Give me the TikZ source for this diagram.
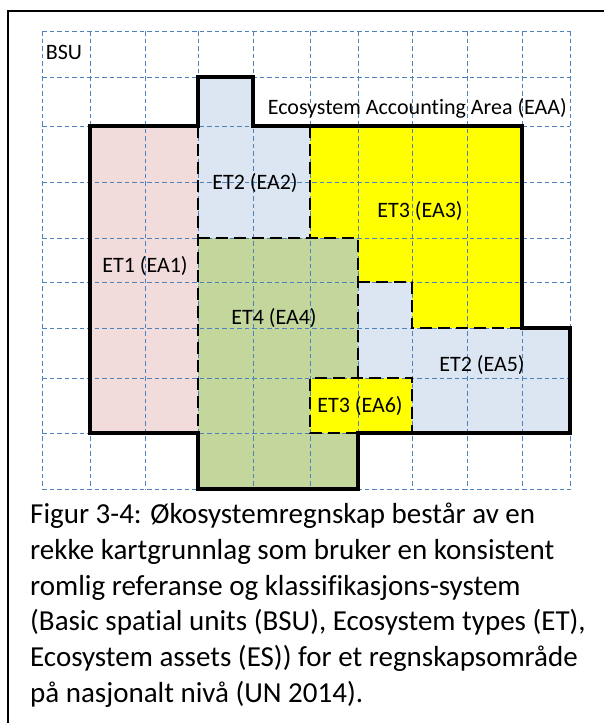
\documentclass[tikz,border=0pt]{standalone}
\usepackage{fontspec}
\setmainfont{Carlito}[Ligatures=NoCommon]
\usetikzlibrary{positioning}

\definecolor{gridblue}{HTML}{4F81BD}
\definecolor{etpink}{HTML}{F2DCDB}
\definecolor{etblue}{HTML}{DCE6F2}
\definecolor{etgreen}{HTML}{C3D69B}
\definecolor{etyellow}{HTML}{FFFF00}

\tikzset{
  bsugrid/.style={gridblue, line width=1pt, dash pattern=on 4.5pt off 3pt},
  eaborder/.style={line width=2.6pt, dash pattern=on 12pt off 6pt},
  eaaborder/.style={line width=4pt, line join=miter},
  etlabel/.style={font=\fontsize{22}{26}\selectfont, inner sep=0pt},
  figtext/.style={font=\fontsize{29}{35.7}\selectfont, inner sep=0pt, align=left}
}

\begin{document}
\begin{tikzpicture}[x=1pt,y=-1pt]
  \useasboundingbox (0,0) rectangle (604,723);
  \draw[line width=2.5pt] (8,723) -- (8,11) -- (604,11);

  % ecosystem types
  \fill[etpink] (90,126) rectangle (198,433);
  \fill[etblue] (198,77) -- (253,77) -- (253,126) -- (310,126) -- (310,238) -- (198,238) -- cycle;
  \fill[etyellow] (310,126) -- (522,126) -- (522,328) -- (412,328) -- (412,282) -- (358,282) -- (358,238) -- (310,238) -- cycle;
  \fill[etgreen] (198,238) rectangle (358,489);
  \fill[etblue] (358,282) -- (412,282) -- (412,328) -- (570,328) -- (570,433) -- (358,433) -- cycle;
  \fill[etyellow] (310,378) rectangle (412,433);

  % BSU grid
  \foreach \x in {42,90,145,198,253,310,358,412,467,522,570}
    \draw[bsugrid] (\x,31) -- (\x,489);
  \foreach \y in {31,77,126,182,238,282,328,378,433,489}
    \draw[bsugrid] (42,\y) -- (570,\y);

  % ecosystem asset borders
  \draw[eaborder] (198,126) -- (198,433);
  \draw[eaborder] (310,126) -- (310,238);
  \draw[eaborder] (198,238) -- (358,238) -- (358,378);
  \draw[eaborder] (358,282) -- (412,282) -- (412,328) -- (522,328);
  \draw[eaborder] (358,433) -- (310,433) -- (310,378) -- (412,378) -- (412,433);

  % accounting area
  \draw[eaaborder] (90,126) -- (198,126) -- (198,77) -- (253,77) -- (253,126) -- (522,126)
    -- (522,328) -- (570,328) -- (570,433) -- (358,433) -- (358,489) -- (198,489)
    -- (198,433) -- (90,433) -- cycle;

  \node[etlabel] (bsu) at (64,52) {BSU};
  \node[etlabel, anchor=east] (eaa) at (567,108) {Ecosystem Accounting Area (EAA)};
  \node[etlabel] (ea1) at (145,266) {ET1 (EA1)};
  \node[etlabel] (ea2) at (255,183) {ET2 (EA2)};
  \node[etlabel] (ea3) at (420,211) {ET3 (EA3)};
  \node[etlabel] (ea4) at (274,318) {ET4 (EA4)};
  \node[etlabel] (ea5) at (482,365) {ET2 (EA5)};
  \node[etlabel] (ea6) at (360,406) {ET3 (EA6)};

  \node[figtext, anchor=north west] (caption) at (30,503) {Figur 3-4: Økosystemregnskap består av en\\
    rekke kartgrunnlag som bruker en konsistent\\
    romlig referanse og klassifikasjons-system\\
    (Basic spatial units (BSU), Ecosystem types (ET),\\
    Ecosystem assets (ES)) for et regnskapsområde\\
    på nasjonalt nivå (UN 2014).};
\end{tikzpicture}
\end{document}
